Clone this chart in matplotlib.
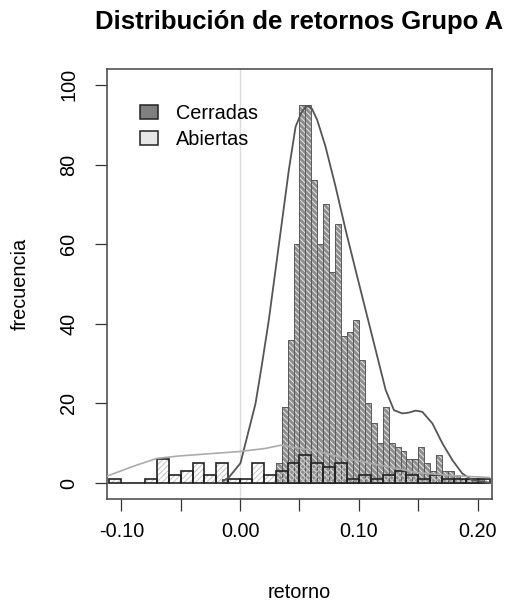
import numpy as np
import matplotlib.pyplot as plt
from matplotlib.patches import Patch

plt.rcParams['font.family'] = ['Liberation Sans', 'DejaVu Sans']
plt.rcParams['hatch.linewidth'] = 0.7

# Cerradas: bins of 0.005 starting at -0.015
closed_start = -0.015
closed_width = 0.005
closed_counts = [1, 0, 0, 0, 0, 0, 0, 0, 0, 5, 19, 36, 60, 95, 95, 76, 60, 70, 53, 65,
                 37, 38, 41, 31, 20, 15, 10, 19, 10, 9, 8, 6, 6, 9, 5, 3, 7, 3, 3, 2,
                 1, 1, 1, 1]

# Abiertas: bins of 0.01 starting at -0.11
open_start = -0.11
open_width = 0.01
open_counts = [1, 0, 0, 1, 6, 2, 3, 5, 2, 5, 1, 1, 5, 2, 3, 5, 7, 5, 4, 5,
               1, 2, 1, 2, 3, 2, 1, 2, 1, 1, 1, 1]

# density curves (scaled to counts)
closed_curve_x = [-0.0146, -0.0095, 0.0003, 0.0059, 0.013, 0.0185, 0.0242, 0.0298, 0.0354,
                  0.041, 0.0467, 0.0515, 0.0549, 0.0573, 0.0605, 0.0649, 0.0719, 0.0804,
                  0.0888, 0.0972, 0.1056, 0.1141, 0.1225, 0.1295, 0.1365, 0.1421, 0.1478,
                  0.1533, 0.1618, 0.1702, 0.1786, 0.187, 0.1955, 0.2098]
closed_curve_y = [0.5, 1.4, 5, 11.6, 20, 30, 41, 53.5, 66, 78.6, 89.5, 93.0, 94.4, 94.7,
                  94.0, 91.2, 84.5, 74.4, 63.6, 53.5, 43.5, 33.4, 23.4, 18.3, 17.5, 17.7,
                  18.2, 17.9, 15, 10, 5.8, 2.4, 0.75, 0.1]
open_curve_x = [-0.112, -0.091, -0.07, -0.0516, -0.029, -0.001, 0.0214, 0.034, 0.0635,
                0.0916, 0.1196, 0.1477, 0.1758, 0.2095]
open_curve_y = [1.75, 4.1, 6.2, 6.8, 7.3, 7.9, 8.7, 9.5, 8.1, 6.0, 4.4, 2.7, 1.9, 1.4]

xticks = [-0.10, -0.05, 0.00, 0.05, 0.10, 0.15, 0.20]
xticklabels = ['-0.10', '', '0.00', '', '0.10', '', '0.20']
yticks = [0, 20, 40, 60, 80, 100]

fig = plt.figure(figsize=(5.1, 6.05), dpi=100)
ax = fig.add_axes([107/510, 1 - 499/605, 385/510, 430/605])

ax.axvline(0, color='#dcdcdc', lw=1, zorder=0)

cx = closed_start + closed_width * np.arange(len(closed_counts))
ax.bar(cx, closed_counts, width=closed_width, align='edge', color='#8e8e8e',
       edgecolor='#e8e8e8', hatch='\\\\\\\\\\\\', linewidth=0, zorder=1)
ax.bar(cx, closed_counts, width=closed_width, align='edge', fill=False,
       edgecolor='#5a5a5a', linewidth=0.7, zorder=2)

ox = open_start + open_width * np.arange(len(open_counts))
ax.bar(ox, open_counts, width=open_width, align='edge', fill=False,
       edgecolor='#c4c4c4', hatch='//////', linewidth=0, zorder=3)
ax.bar(ox, open_counts, width=open_width, align='edge', fill=False,
       edgecolor='#222222', linewidth=1.2, zorder=4)

ax.plot(closed_curve_x, closed_curve_y, color='#555555', lw=1.3, zorder=5)
ax.plot(open_curve_x, open_curve_y, color='#ababab', lw=1.2, zorder=5)

ax.set_xlim(-0.112, 0.212)
ax.set_ylim(-4, 104)
ax.set_xticks(xticks)
ax.set_xticklabels(xticklabels)
ax.set_yticks(yticks)
ax.set_yticklabels([str(v) for v in yticks], rotation=90, va='center')
ax.tick_params(axis='both', length=8.6, width=0.9, color='#333333', labelsize=14.3)
ax.tick_params(axis='x', pad=8)
ax.tick_params(axis='y', pad=12)
for s in ax.spines.values():
    s.set_color('#444444')
    s.set_linewidth(1.1)

handles = [Patch(facecolor='#7f7f7f', edgecolor='#222222', linewidth=1.1, label='Cerradas'),
           Patch(facecolor='#e6e6e6', edgecolor='#222222', linewidth=1.1, label='Abiertas')]
ax.legend(handles=handles, loc='upper left', bbox_to_anchor=(0.087, 0.918), frameon=False,
          fontsize=14.3, handlelength=0.88, handleheight=0.73, handletextpad=0.9,
          labelspacing=0.35, borderpad=0, borderaxespad=0)

fig.text(299.5/510, 1 - 22/605, 'Distribución de retornos Grupo A', ha='center', va='center',
         fontsize=18.5, fontweight='bold')
fig.text(299.5/510, 1 - 592/605, 'retorno', ha='center', va='center', fontsize=14.3)
fig.text(20/510, 1 - 284/605, 'frecuencia', ha='center', va='center', rotation=90, fontsize=14.3)

fig.savefig('out.png', dpi=100)
